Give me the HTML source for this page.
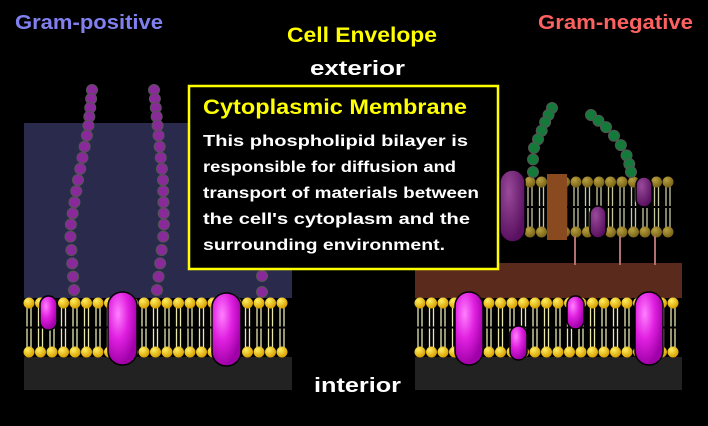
<!DOCTYPE html>
<html><head><meta charset="utf-8"><style>
body{margin:0;background:#000;width:708px;height:426px;overflow:hidden;font-family:"Liberation Sans",sans-serif}
svg{display:block}
</style></head><body>
<svg id="s" width="708" height="426" xmlns="http://www.w3.org/2000/svg">
<defs>
<radialGradient id="mag" cx="35%" cy="30%" r="70%"><stop offset="0" stop-color="#ff80ff"/><stop offset=".5" stop-color="#e020e0"/><stop offset="1" stop-color="#a000a8"/></radialGradient>
<radialGradient id="pur" cx="35%" cy="30%" r="70%"><stop offset="0" stop-color="#9a4a9a"/><stop offset="1" stop-color="#5a1060"/></radialGradient>
<radialGradient id="head" cx="35%" cy="30%" r="70%"><stop offset="0" stop-color="#ffef60"/><stop offset="1" stop-color="#d8a000"/></radialGradient>
<radialGradient id="ohead" cx="35%" cy="30%" r="70%"><stop offset="0" stop-color="#b8a040"/><stop offset="1" stop-color="#7a6418"/></radialGradient>
</defs>
<rect width="708" height="426" fill="#000"/>
<rect x="24" y="123" width="268" height="175" fill="#2a2b4c"/>
<rect x="24" y="357" width="268" height="33" fill="#222"/>
<rect x="415" y="263" width="267" height="35" fill="#5a2a1c"/>
<rect x="415" y="357" width="267" height="33" fill="#222"/>
<g id="dyn"></g>
<rect x="189" y="86" width="309" height="183" fill="#000" stroke="#ffff00" stroke-width="2.5"/>
<text x="203" y="114" font-size="21" font-weight="bold" fill="#ffff00" textLength="264" lengthAdjust="spacingAndGlyphs">Cytoplasmic Membrane</text>
<g font-size="16" font-weight="bold" fill="#fff">
<text x="203" y="146" textLength="265" lengthAdjust="spacingAndGlyphs">This phospholipid bilayer is</text>
<text x="203" y="172" textLength="253" lengthAdjust="spacingAndGlyphs">responsible for diffusion and</text>
<text x="203" y="198" textLength="276" lengthAdjust="spacingAndGlyphs">transport of materials between</text>
<text x="203" y="224" textLength="267" lengthAdjust="spacingAndGlyphs">the cell's cytoplasm and the</text>
<text x="203" y="250" textLength="242" lengthAdjust="spacingAndGlyphs">surrounding environment.</text>
</g>
<text x="15" y="29" font-size="20" font-weight="bold" fill="#8080ee" textLength="148" lengthAdjust="spacingAndGlyphs">Gram-positive</text>
<text x="287" y="42" font-size="21" font-weight="bold" fill="#ffff00" textLength="150" lengthAdjust="spacingAndGlyphs">Cell Envelope</text>
<text x="538" y="29" font-size="20" font-weight="bold" fill="#ff6060" textLength="155" lengthAdjust="spacingAndGlyphs">Gram-negative</text>
<text x="310" y="75" font-size="20" font-weight="bold" fill="#fff" textLength="95" lengthAdjust="spacingAndGlyphs">exterior</text>
<text x="314" y="392" font-size="20" font-weight="bold" fill="#fff" textLength="87" lengthAdjust="spacingAndGlyphs">interior</text>
</svg>
<script>
var g=document.getElementById('dyn'),h='';
function bilayer(x0,x1,yt,yb,grad,tail){
 for(var x=x0+5;x<=x1-4;x+=11.5){
  h+='<line x1="'+(x-2)+'" y1="'+yt+'" x2="'+(x-2)+'" y2="'+yb+'" stroke="'+tail+'" stroke-width="1.3"/>';
  h+='<line x1="'+(x+2)+'" y1="'+yt+'" x2="'+(x+2)+'" y2="'+yb+'" stroke="'+tail+'" stroke-width="1.3"/>';
 }
 h+='<line x1="'+x0+'" y1="'+((yt+yb)/2)+'" x2="'+x1+'" y2="'+((yt+yb)/2)+'" stroke="#000" stroke-width="2"/>';
 for(var x=x0+5;x<=x1-4;x+=11.5){
  h+='<circle cx="'+x+'" cy="'+yt+'" r="5.5" fill="url(#'+grad+')"/><circle cx="'+x+'" cy="'+yb+'" r="5.5" fill="url(#'+grad+')"/>';
 }
}
function chain(pts,col,r){
 for(var i=0;i<pts.length;i++)h+='<circle cx="'+pts[i][0]+'" cy="'+pts[i][1]+'" r="'+r+'" fill="'+col+'" stroke="#555" stroke-width="1"/>';
}
function interp(ctrl,n){var out=[];for(var i=0;i<n;i++){var t=i/(n-1)*(ctrl.length-1),k=Math.min(Math.floor(t),ctrl.length-2),f=t-k;out.push([ctrl[k][0]+(ctrl[k+1][0]-ctrl[k][0])*f,ctrl[k][1]+(ctrl[k+1][1]-ctrl[k][1])*f]);}return out;}
chain(interp([[92,90],[88,130],[78,180],[70,230],[74,290]],19),'#8a2a9a',5.5);
chain(interp([[154,90],[158,130],[163,180],[164,230],[157,290]],19),'#8a2a9a',5.5);
chain(interp([[262,260],[262,292]],3),'#8a2a9a',5.5);
bilayer(24,292,303,352,'head','#e8e8b0');
bilayer(415,682,303,352,'head','#e8e8b0');
function prot(x,y,w,hh,f){h+='<rect x="'+x+'" y="'+y+'" width="'+w+'" height="'+hh+'" rx="'+(w/2)+'" ry="'+Math.min(w/2,14)+'" fill="'+f+'" stroke="#000" stroke-width="1.5"/>';}
prot(40,296,17,34,'url(#mag)');prot(108,292,29,73,'url(#mag)');prot(212,293,29,73,'url(#mag)');
prot(455,292,28,73,'url(#mag)');prot(510,326,17,34,'url(#mag)');prot(567,296,17,33,'url(#mag)');prot(635,292,28,73,'url(#mag)');
bilayer(525,682,182,232,'ohead','#c8c8a0');
chain(interp([[552,108],[546,120],[540,135],[533,150],[533,172]],8),'#137a3a',5.5);
chain(interp([[591,115],[604,125],[618,140],[628,158],[631,172]],8),'#137a3a',5.5);
[575,620,655].forEach(function(x){h+='<line x1="'+x+'" y1="236" x2="'+x+'" y2="265" stroke="#b07070" stroke-width="2"/>';});
h+='<rect x="547" y="174" width="20" height="66" fill="#8a4a20"/>';
prot(500,170,25,72,'url(#pur)');prot(590,206,16,32,'url(#pur)');prot(636,177,16,30,'url(#pur)');
g.innerHTML=h;
</script>
</body></html>
